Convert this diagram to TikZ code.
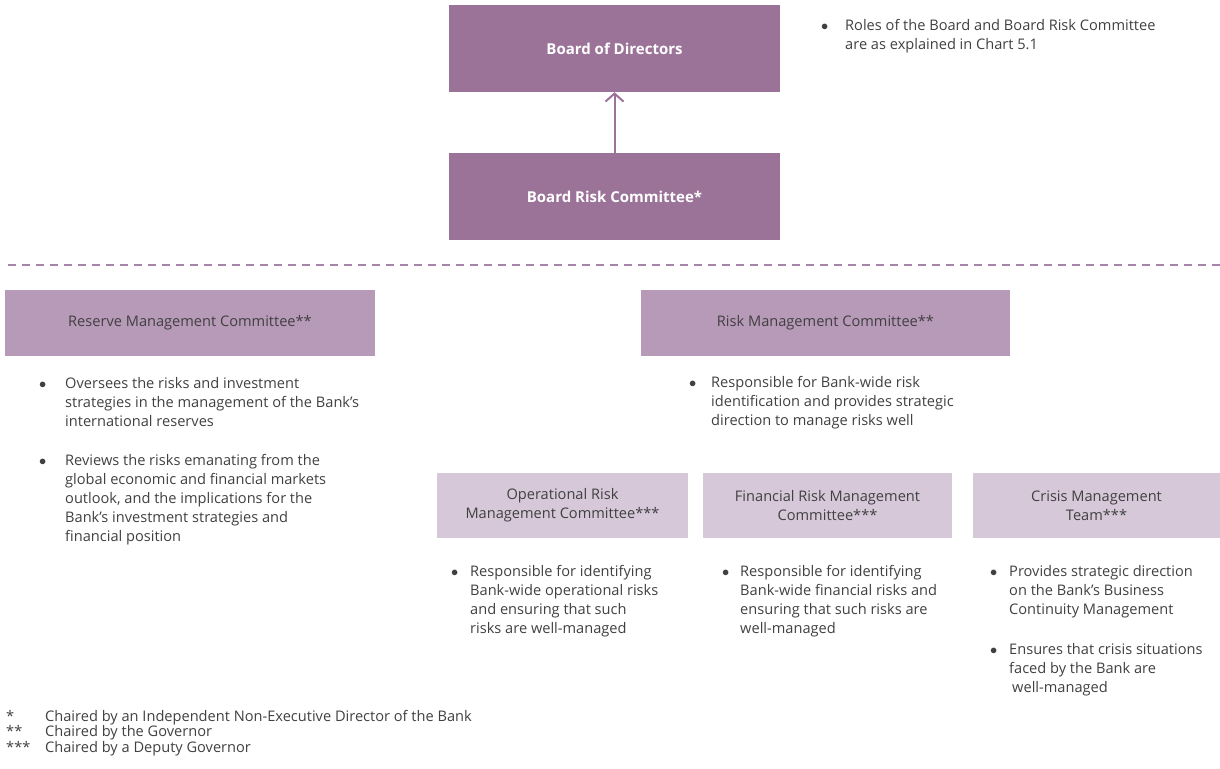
\documentclass[tikz,border=0pt]{standalone}
\usepackage{fontspec}
\setmainfont{Open Sans}
\usepackage{tikz}
\usetikzlibrary{arrows.meta}

\definecolor{plumdark}{HTML}{9B7399}
\definecolor{plummid}{HTML}{B799B8}
\definecolor{plumlight}{HTML}{D6C8D9}
\definecolor{plumdash}{HTML}{A883AA}
\definecolor{inkgray}{HTML}{404040}

% bullet followed by a block of lines
\newcommand{\bul}[2][22pt]{\makebox[#1][l]{$\bullet$}\begin{tabular}[t]{@{}l@{}}#2\end{tabular}}

\begin{document}
\begin{tikzpicture}[x=1pt,y=-1pt,
	board/.style={fill=plumdark, text=white, font=\fontsize{15}{18}\selectfont\bfseries, minimum width=331pt, minimum height=87pt, inner sep=0pt},
	committee/.style={fill=plummid, text=inkgray, font=\fontsize{14.6}{19}\selectfont, minimum width=369pt, minimum height=66pt, inner sep=0pt},
	subcommittee/.style={fill=plumlight, text=inkgray, font=\fontsize{14.6}{19}\selectfont, align=center, minimum height=65pt, inner sep=0pt},
	note/.style={anchor=base west, inner sep=0pt, text=inkgray, font=\fontsize{14.6}{19}\selectfont},
	footnote/.style={anchor=base west, inner sep=0pt, text=inkgray, font=\fontsize{14.6}{15.5}\selectfont}]
\useasboundingbox (0,0) rectangle (1220,768);

%board level
\node[board] (bod) at (614.5,48.5) {Board of Directors};
\node[board] (brc) at (614.5,196.5) {Board Risk Committee*};
\draw[plumdark, line width=2pt, -{Straight Barb[length=8pt,width=18pt,line width=2pt]}] (brc) -- (bod);
\node[note] (rolesnote) at (821,31) {\bul[24pt]{Roles of the Board and Board Risk Committee\\are as explained in Chart 5.1}};

%dashed separator
\coordinate (sepL) at (8,265);
\coordinate (sepR) at (1220,265);
\draw[plumdash, line width=2.5pt, dash pattern=on 8pt off 6pt] (sepL) -- (sepR);

%management committees
\node[committee, minimum width=370pt] (resv) at (190,323) {Reserve Management Committee**};
\node[committee] (riskmc) at (825.5,323) {Risk Management Committee**};

\node[note] (resvnote1) at (39,388) {\bul[26pt]{Oversees the risks and investment\\strategies in the management of the Bank's\\international reserves}};
\node[note] (resvnote2) at (39,465) {\bul[26pt]{Reviews the risks emanating from the\\global economic and financial markets\\outlook, and the implications for the\\Bank's investment strategies and\\financial position}};
\node[note] (risknote) at (689,387) {\bul[22pt]{Responsible for Bank-wide risk\\identification and provides strategic\\direction to manage risks well}};

%sub-committees
\node[subcommittee, minimum width=251pt] (oprisk) at (562.5,505.5) {Operational Risk\\Management Committee***};
\node[subcommittee, minimum width=249pt] (finrisk) at (827.5,505.5) {Financial Risk Management\\Committee***};
\node[subcommittee, minimum width=247pt] (crisis) at (1096.5,505.5) {Crisis Management\\Team***};

\node[note] (opnote) at (451,576) {\bul[19pt]{Responsible for identifying\\Bank-wide operational risks\\and ensuring that such\\risks are well-managed}};
\node[note] (finnote) at (722,576) {\bul[18pt]{Responsible for identifying\\Bank-wide financial risks and\\ensuring that such risks are\\well-managed}};
\node[note] (crisisnote1) at (990,576) {\bul[19pt]{Provides strategic direction\\on the Bank's Business\\Continuity Management}};
\node[note] (crisisnote2) at (990,654) {\bul[19pt]{Ensures that crisis situations\\faced by the Bank are\\\hspace*{3pt}well-managed}};

%footnotes
\node[footnote] (chairs) at (6,721) {\begin{tabular}[t]{@{}p{39pt}@{}l@{}}
{*}   & Chaired by an Independent Non-Executive Director of the Bank\\
{**}  & Chaired by the Governor\\
{***} & Chaired by a Deputy Governor
\end{tabular}};
\end{tikzpicture}
\end{document}
